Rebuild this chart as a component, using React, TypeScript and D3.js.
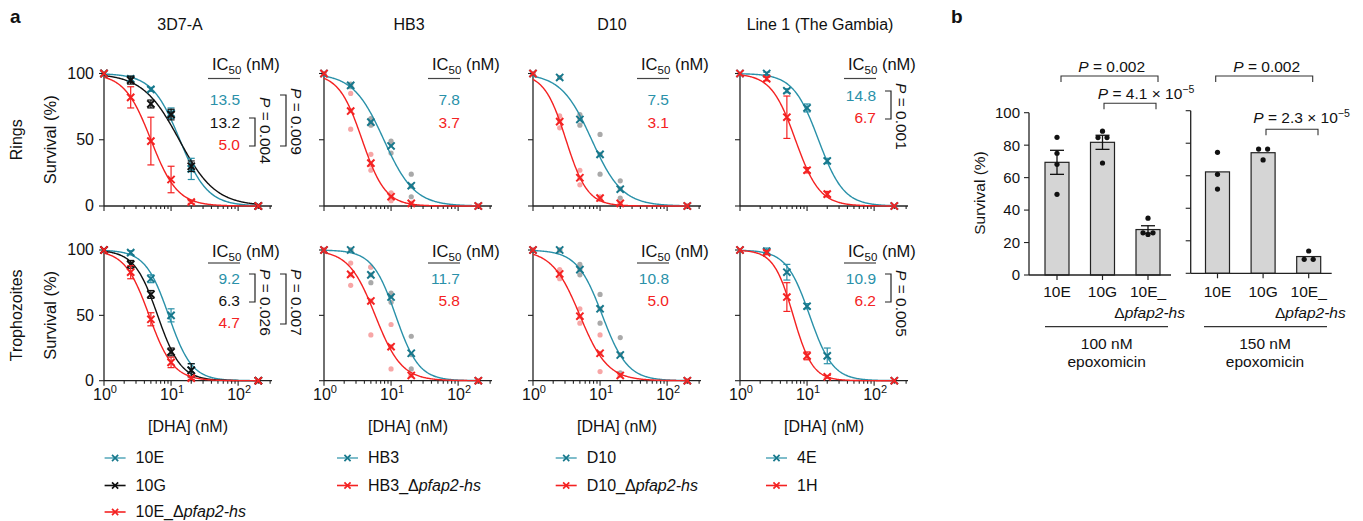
import React from "react";
import * as d3 from "d3";

// ---------------- DATA ----------------
const conc = [1, 2.5, 5, 10, 20, 200];
const strains = ["3D7-A", "HB3", "D10", "Line 1 (The Gambia)"];
const stages = ["Rings", "Trophozoites"];

// 3D7-A (mean, SEM)
const r3d7_10E = [100, 96, 88, 70, 28, 0];
const r3d7_10E_err = [0, 2, 1.5, 4, 8, 0];
const r3d7_10G = [100, 95, 77, 69, 30, 0];
const r3d7_10G_err = [0, 3, 3, 4, 4, 0];
const r3d7_KO = [100, 82, 49, 20, 3, 0];
const r3d7_KO_err = [0, 8, 18, 10, 1, 0];
const r3d7_ic50 = [13.5, 13.2, 5.0];
const r3d7_hill = [2.1, 1.6, 2.2];

const t3d7_10E = [100, 98, 78, 50, 8, 0];
const t3d7_10E_err = [0, 1.5, 3, 5, 5, 0];
const t3d7_10G = [100, 89, 66, 22, 8, 0];
const t3d7_10G_err = [0, 3, 3, 3, 5, 0];
const t3d7_KO = [100, 83, 47, 14, 2, 0];
const t3d7_KO_err = [0, 5, 5, 4, 1, 0];
const t3d7_ic50 = [9.2, 6.3, 4.7];
const t3d7_hill = [2.5, 2.5, 2.4];

// HB3 (replicates)
const rHB3_wt = [[100, 100, 100], [92, 90, 91], [66, 61, 63], [49, 47, 40], [24, 7, 15], [0, 0, 0]];
const rHB3_ko = [[100, 100, 100], [85, 58, 72], [39, 27, 31], [10, 4, 7], [2, 2, 2], [0, 0, 0]];
const rHB3_ic50 = [7.8, 3.7];
const rHB3_hill = [1.9, 2.5];
const tHB3_wt = [[100, 100, 100], [100, 100, 100], [87, 75, 81], [67, 65, 60], [34, 9, 20], [0, 0, 0]];
const tHB3_ko = [[100, 100, 100], [90, 73, 81], [87, 35, 61], [43, 9, 26], [4, 4, 4], [0, 0, 0]];
const tHB3_ic50 = [11.7, 5.8];
const tHB3_hill = [2.5, 2.2];

// D10 (replicates)
const rD10_wt = [[100, 100, 100], [97, 97, 97], [69, 61, 66], [54, 24, 39], [19, 6, 13], [0, 0, 0]];
const rD10_ko = [[100, 100, 100], [68, 59, 64], [27, 16, 21], [7, 5, 6], [2, 2, 2], [0, 0, 0]];
const rD10_ic50 = [7.5, 3.1];
const rD10_hill = [1.9, 2.7];
const tD10_wt = [[100, 100, 100], [100, 100, 100], [89, 81, 85], [66, 44, 55], [33, 6, 20], [0, 0, 0]];
const tD10_ko = [[100, 100, 100], [85, 78, 82], [55, 44, 49], [35, 7, 21], [4, 4, 4], [0, 0, 0]];
const tD10_ic50 = [10.8, 5.0];
const tD10_hill = [2.3, 2.1];

// Line 1 (mean, SEM)
const rL1_4E = [100, 100, 87, 74, 34, 0];
const rL1_4E_err = [0, 1, 1.5, 3, 2, 0];
const rL1_1H = [100, 96, 67, 27, 9, 0];
const rL1_1H_err = [0, 1.5, 16, 2, 2, 0];
const rL1_ic50 = [14.8, 6.7];
const rL1_hill = [2.3, 2.4];
const tL1_4E = [100, 99, 83, 57, 19, 0];
const tL1_4E_err = [0, 2.5, 6, 2, 6, 0];
const tL1_1H = [100, 98, 64, 19, 3, 0];
const tL1_1H_err = [0, 1.5, 11, 3, 1, 0];
const tL1_ic50 = [10.9, 6.2];
const tL1_hill = [2.5, 3.0];

// P-value brackets [seriesA, seriesB, P]
const r3d7_P: [number, number, string][] = [[1, 2, "0.004"], [0, 2, "0.009"]];
const t3d7_P: [number, number, string][] = [[0, 1, "0.026"], [0, 2, "0.007"]];
const rL1_P: [number, number, string][] = [[0, 1, "0.001"]];
const tL1_P: [number, number, string][] = [[0, 1, "0.005"]];

// legends
const legend3D7 = ["10E", "10G", "10E_Δpfap2-hs"];
const legendHB3 = ["HB3", "HB3_Δpfap2-hs"];
const legendD10 = ["D10", "D10_Δpfap2-hs"];
const legendL1 = ["4E", "1H"];

// panel b
const bCats = ["10E", "10G", "10E_Δpfap2-hs"];
const b100 = [[84.8, 75, 68.2, 49.7], [88.6, 84.7, 84.7, 69], [35, 26, 25, 26]];
const b150 = [[74.4, 60.9, 51.8], [76.4, 76.4, 69.7], [13.7, 8.6, 8.6]];
const b100_P = [["0.002", null], ["4.1", "−5"]];
const b150_P = [["0.002", null], ["2.3", "−5"]];
const bTicks = [0, 20, 40, 60, 80, 100];

// ---------------- STYLE / LAYOUT ----------------
const FONT = "'Liberation Sans', Arial, Helvetica, sans-serif";
const TEAL = "#2a91a9";
const TEAL_M = "#17788c";
const RED = "#f42222";
const BLACK = "#111";
const GRAY_DOT = "#a9a9a9";
const PINK_DOT = "#f7a6a6";
const AX = "#222";

const colX = [104, 324, 533, 740];
const titleX = [180, 409, 612, 820];
const rowY = [[73.5, 206], [250, 380.7]];
const icHeadY = [70, 257];
const icLineY = [78.5, 263];
const icValY = [[105, 128, 150], [284, 306, 328]];
const icValYL1 = [[101, 123], [284, 306]];
const pTextTop = [[97, 88], [269, 269]];
const pTextTopL1 = [83, 270];
const legendX = [104.6, 337, 555.7, 766];
const legendY = [458, 485.5, 512];

type Series = { color: string; mcolor: string; dot?: string; mean: number[]; err?: number[]; reps?: number[][] };

const meanOf = (reps: number[][]) => reps.map((r) => d3.mean(r) as number);

const panelSeries: Series[][][] = [
  [
    [
      { color: TEAL, mcolor: TEAL_M, mean: r3d7_10E, err: r3d7_10E_err },
      { color: BLACK, mcolor: BLACK, mean: r3d7_10G, err: r3d7_10G_err },
      { color: RED, mcolor: RED, mean: r3d7_KO, err: r3d7_KO_err },
    ],
    [
      { color: TEAL, mcolor: TEAL_M, mean: t3d7_10E, err: t3d7_10E_err },
      { color: BLACK, mcolor: BLACK, mean: t3d7_10G, err: t3d7_10G_err },
      { color: RED, mcolor: RED, mean: t3d7_KO, err: t3d7_KO_err },
    ],
  ],
  [
    [
      { color: TEAL, mcolor: TEAL_M, dot: GRAY_DOT, mean: meanOf(rHB3_wt), reps: rHB3_wt },
      { color: RED, mcolor: RED, dot: PINK_DOT, mean: meanOf(rHB3_ko), reps: rHB3_ko },
    ],
    [
      { color: TEAL, mcolor: TEAL_M, dot: GRAY_DOT, mean: meanOf(tHB3_wt), reps: tHB3_wt },
      { color: RED, mcolor: RED, dot: PINK_DOT, mean: meanOf(tHB3_ko), reps: tHB3_ko },
    ],
  ],
  [
    [
      { color: TEAL, mcolor: TEAL_M, dot: GRAY_DOT, mean: meanOf(rD10_wt), reps: rD10_wt },
      { color: RED, mcolor: RED, dot: PINK_DOT, mean: meanOf(rD10_ko), reps: rD10_ko },
    ],
    [
      { color: TEAL, mcolor: TEAL_M, dot: GRAY_DOT, mean: meanOf(tD10_wt), reps: tD10_wt },
      { color: RED, mcolor: RED, dot: PINK_DOT, mean: meanOf(tD10_ko), reps: tD10_ko },
    ],
  ],
  [
    [
      { color: TEAL, mcolor: TEAL_M, mean: rL1_4E, err: rL1_4E_err },
      { color: RED, mcolor: RED, mean: rL1_1H, err: rL1_1H_err },
    ],
    [
      { color: TEAL, mcolor: TEAL_M, mean: tL1_4E, err: tL1_4E_err },
      { color: RED, mcolor: RED, mean: tL1_1H, err: tL1_1H_err },
    ],
  ],
];
const panelIC = [[r3d7_ic50, t3d7_ic50], [rHB3_ic50, tHB3_ic50], [rD10_ic50, tD10_ic50], [rL1_ic50, tL1_ic50]];
const panelHill = [[r3d7_hill, t3d7_hill], [rHB3_hill, tHB3_hill], [rD10_hill, tD10_hill], [rL1_hill, tL1_hill]];
const panelP = [[r3d7_P, t3d7_P], [[], []], [[], []], [rL1_P, tL1_P]];
const legends = [legend3D7, legendHB3, legendD10, legendL1];
const legendColors = [
  [[TEAL, TEAL_M], [BLACK, BLACK], [RED, RED]],
  [[TEAL, TEAL_M], [RED, RED]],
  [[TEAL, TEAL_M], [RED, RED]],
  [[TEAL, TEAL_M], [RED, RED]],
];

const fmt1 = d3.format(".1f");
const X_MARK = "M-3.6,-3.6L3.6,3.6M-3.6,3.6L3.6,-3.6";

function LabelWithItalic({ text }: { text: string }) {
  const i = text.indexOf("Δ");
  if (i < 0) return <>{text}</>;
  return (
    <>
      {text.slice(0, i + 1)}
      <tspan fontStyle="italic">{text.slice(i + 1)}</tspan>
    </>
  );
}

function DosePanel({ ci, ri }: { ci: number; ri: number }) {
  const ax = colX[ci];
  const [yTop, yBot] = rowY[ri];
  const x = d3.scaleLog().domain([1, 320]).range([ax, ax + 168]);
  const y = d3.scaleLinear().domain([0, 100]).range([yBot, yTop]);
  const series = panelSeries[ci][ri];
  const ics = panelIC[ci][ri];
  const hills = panelHill[ci][ri];
  const ps = panelP[ci][ri];
  const curveX = d3.range(0, Math.log10(200) + 1e-9, 0.01).map((e) => Math.pow(10, e));
  const valY = ci === 3 ? icValYL1[ri] : icValY[ri];
  const xt = x.ticks();
  const isMajor = (t: number) => Math.abs(Math.log10(t) - Math.round(Math.log10(t))) < 1e-9;

  return (
    <g>
      {/* replicate dots */}
      {series.map((s, si) =>
        s.reps
          ? s.reps.map((r, k) =>
              r.map((v, j) => <circle key={`d${si}-${k}-${j}`} cx={x(conc[k])} cy={y(v)} r={2.6} fill={s.dot} />)
            )
          : null
      )}
      {/* axes */}
      <line x1={ax} x2={ax + 168} y1={yBot} y2={yBot} stroke={AX} strokeWidth={1.3} />
      <line x1={ax} x2={ax} y1={yTop} y2={yBot} stroke={AX} strokeWidth={1.3} />
      {xt.map((t, i) => (
        <line key={`xt${i}`} x1={x(t)} x2={x(t)} y1={yBot} y2={yBot + (isMajor(t) ? 5 : 3)} stroke={AX} strokeWidth={1.1} />
      ))}
      {[0, 50, 100].map((t) => (
        <line key={`yt${t}`} x1={ax - 5} x2={ax} y1={y(t)} y2={y(t)} stroke={AX} strokeWidth={1.1} />
      ))}
      {ci === 0 &&
        [0, 50, 100].map((t) => (
          <text key={`yl${t}`} x={ax - 10} y={y(t)} dy="0.34em" textAnchor="end" fontSize={16}>
            {t}
          </text>
        ))}
      {ri === 1 &&
        [1, 10, 100].map((t, i) => (
          <text key={`xl${t}`} x={x(t) + 1} y={400} textAnchor="middle" fontSize={16}>
            10<tspan fontSize={11} dy={-7.5}>{i}</tspan>
          </text>
        ))}
      {/* curves */}
      {series.map((s, si) => {
        const f = (c: number) => 100 / (1 + Math.pow(c / ics[si], hills[si]));
        const line = d3
          .line<number>()
          .x((c) => x(c))
          .y((c) => y(f(c)));
        return <path key={`c${si}`} d={line(curveX) || ""} fill="none" stroke={s.color} strokeWidth={1.4} />;
      })}
      {/* error bars + markers */}
      {series.map((s, si) =>
        s.mean.map((m, k) => {
          const cx = x(conc[k]);
          const cy = y(m);
          const e = s.err ? s.err[k] : 0;
          return (
            <g key={`m${si}-${k}`}>
              {e > 0.8 && (
                <g stroke={s.color} strokeWidth={1.2}>
                  <line x1={cx} x2={cx} y1={y(m + e)} y2={y(m - e)} />
                  <line x1={cx - 3.5} x2={cx + 3.5} y1={y(m + e)} y2={y(m + e)} />
                  <line x1={cx - 3.5} x2={cx + 3.5} y1={y(m - e)} y2={y(m - e)} />
                </g>
              )}
              <path d={X_MARK} transform={`translate(${cx},${cy})`} stroke={s.mcolor} strokeWidth={2} fill="none" />
            </g>
          );
        })
      )}
      {/* IC50 block */}
      <text x={ax + 108} y={icHeadY[ri]} fontSize={16.5}>
        IC<tspan fontSize={11.5} dy={4}>50</tspan>
        <tspan dy={-4}> (nM)</tspan>
      </text>
      <line x1={ax + 104} x2={ax + 136} y1={icLineY[ri]} y2={icLineY[ri]} stroke="#444" strokeWidth={1.2} />
      {ics.map((v, si) => (
        <text key={`ic${si}`} x={ax + 136} y={valY[si]} textAnchor="end" fontSize={15.5} fill={series[si].color}>
          {fmt1(v)}
        </text>
      ))}
      {/* P brackets */}
      {ps.map(([a, b, p], k) => {
        const vx = ax + (k === 0 ? 151 : 182);
        const y1 = valY[a] - 10;
        const y2 = valY[b] - 4;
        const top = ci === 3 ? pTextTopL1[ri] : pTextTop[ri][k];
        return (
          <g key={`p${k}`}>
            <path d={`M${vx - 6},${y1}H${vx}V${y2}H${vx - 6}`} fill="none" stroke={AX} strokeWidth={1.2} />
            <text transform={`translate(${vx + 11},${top}) rotate(90)`} dy="0.36em" fontSize={15.5}>
              <tspan fontStyle="italic">P</tspan> = {p}
            </text>
          </g>
        );
      })}
    </g>
  );
}

function jitter(vals: number[]) {
  const offs = vals.map(() => 0);
  const used = vals.map(() => false);
  vals.forEach((v, i) => {
    if (used[i]) return;
    const group: number[] = [];
    vals.forEach((w, j) => {
      if (!used[j] && Math.abs(w - v) < 3) {
        group.push(j);
        used[j] = true;
      }
    });
    const n = group.length;
    const sp = n === 2 ? 9 : 5;
    group.forEach((j, k) => (offs[j] = (k - (n - 1) / 2) * sp));
  });
  return offs;
}

function BarPanel({ data, x0, x1, yr, centers, labels, showErr, P, brk }: any) {
  const y = d3.scaleLinear().domain([0, 100]).range(yr);
  const x = d3.scalePoint<string>().domain(bCats).range(centers);
  const bw = 24;
  return (
    <g>
      {data.map((vals: number[], i: number) => {
        const m = d3.mean(vals) as number;
        const cx = x(bCats[i]) as number;
        const sem = (d3.deviation(vals) as number) / Math.sqrt(vals.length);
        const offs = jitter(vals);
        return (
          <g key={i}>
            <rect x={cx - bw / 2} y={y(m)} width={bw} height={y(0) - y(m)} fill="#d5d5d5" stroke={AX} strokeWidth={1.2} />
            {showErr && (
              <g stroke={BLACK} strokeWidth={1.3}>
                <line x1={cx} x2={cx} y1={y(m + sem)} y2={y(m - sem)} />
                <line x1={cx - 7} x2={cx + 7} y1={y(m + sem)} y2={y(m + sem)} />
                <line x1={cx - 7} x2={cx + 7} y1={y(m - sem)} y2={y(m - sem)} />
              </g>
            )}
            {vals.map((v, j) => (
              <circle key={j} cx={cx + offs[j]} cy={y(v)} r={2.6} fill={BLACK} />
            ))}
            <line x1={cx} x2={cx} y1={y(0)} y2={y(0) + 5} stroke={AX} strokeWidth={1.2} />
            <text x={cx} y={297} textAnchor="middle" fontSize={15.5}>
              {i === 2 ? "10E_" : bCats[i]}
            </text>
            {i === 2 && (
              <text x={cx + 37} y={318} textAnchor="end" fontSize={15.5}>
                Δ<tspan fontStyle="italic">pfap2-hs</tspan>
              </text>
            )}
          </g>
        );
      })}
      <line x1={x0} x2={x1} y1={y(0)} y2={y(0)} stroke={AX} strokeWidth={1.3} />
      <line x1={x0} x2={x0} y1={y(0)} y2={y(100)} stroke={AX} strokeWidth={1.3} />
      {bTicks.map((t) => (
        <line key={t} x1={x0 - 5} x2={x0} y1={y(t)} y2={y(t)} stroke={AX} strokeWidth={1.1} />
      ))}
      {labels &&
        bTicks.map((t) => (
          <text key={`l${t}`} x={x0 - 9} y={y(t)} dy="0.36em" textAnchor="end" fontSize={15}>
            {t}
          </text>
        ))}
      {brk.map((b: any, k: number) => (
        <g key={`b${k}`}>
          <path d={`M${b.xa},${b.y + 6}V${b.y}H${b.xb}V${b.y + 6}`} fill="none" stroke="#333" strokeWidth={1.1} />
          <text x={b.tx} y={b.ty} textAnchor="middle" fontSize={15.5}>
            <tspan fontStyle="italic">P</tspan> = {P[k][0]}
            {P[k][1] && (
              <>
                {" × 10"}
                <tspan fontSize={10.5} dy={-6}>
                  {P[k][1]}
                </tspan>
              </>
            )}
          </text>
        </g>
      ))}
    </g>
  );
}

export default function App() {
  return (
    <svg
      width={1363}
      height={521}
      viewBox="0 0 1363 521"
      style={{ position: "absolute", left: 0, top: 0, background: "#fff" }}
      fontFamily={FONT}
      fill="#111"
    >
      <rect width={1363} height={521} fill="#fff" />
      <text x={10} y={23} fontSize={19} fontWeight="bold">a</text>
      <text x={951} y={23} fontSize={19} fontWeight="bold">b</text>

      {strains.map((s, ci) => (
        <text key={s} x={titleX[ci]} y={30} textAnchor="middle" fontSize={16}>
          {s}
        </text>
      ))}
      {stages.map((s, ri) => {
        const cy = (rowY[ri][0] + rowY[ri][1]) / 2;
        return (
          <g key={s}>
            <text transform={`translate(16.5,${cy}) rotate(-90)`} dy="0.36em" textAnchor="middle" fontSize={16}>
              {s}
            </text>
            <text transform={`translate(50,${cy}) rotate(-90)`} dy="0.36em" textAnchor="middle" fontSize={16.5}>
              Survival (%)
            </text>
          </g>
        );
      })}

      {[0, 1, 2, 3].map((ci) => (
        <g key={ci}>
          <DosePanel ci={ci} ri={0} />
          <DosePanel ci={ci} ri={1} />
          <text x={colX[ci] + 84} y={432} textAnchor="middle" fontSize={16}>
            [DHA] (nM)
          </text>
          {legends[ci].map((l, k) => {
            const lx = legendX[ci];
            const ly = legendY[k];
            const [lc, mc] = legendColors[ci][k];
            return (
              <g key={l}>
                <line x1={lx} x2={lx + 21} y1={ly} y2={ly} stroke={lc} strokeWidth={1.6} opacity={lc === TEAL ? 0.75 : 1} />
                <path d={X_MARK} transform={`translate(${lx + 10.5},${ly}) scale(0.85)`} stroke={mc} strokeWidth={2} fill="none" />
                <text x={lx + 31} y={ly} dy="0.34em" fontSize={16}>
                  <LabelWithItalic text={l} />
                </text>
              </g>
            );
          })}
        </g>
      ))}

      {/* panel b */}
      <text transform="translate(979,193) rotate(-90)" dy="0.36em" textAnchor="middle" fontSize={15.5}>
        Survival (%)
      </text>
      <BarPanel
        data={b100}
        x0={1029}
        x1={1171}
        yr={[275, 112.7]}
        centers={[1057, 1148]}
        labels
        showErr
        P={b100_P}
        brk={[
          { xa: 1061, xb: 1158, y: 76, tx: 1111.7, ty: 71.5 },
          { xa: 1104, xb: 1156, y: 103.3, tx: 1146, ty: 98.5 },
        ]}
      />
      <BarPanel
        data={b150}
        x0={1190.7}
        x1={1331.7}
        yr={[273.3, 110.7]}
        centers={[1217.5, 1308.7]}
        labels={false}
        showErr={false}
        P={b150_P}
        brk={[
          { xa: 1215.7, xb: 1312.7, y: 76, tx: 1266.7, ty: 71.5 },
          { xa: 1266, xb: 1318, y: 129.3, tx: 1301.5, ty: 123 },
        ]}
      />
      <line x1={1045} x2={1168} y1={326.7} y2={326.7} stroke="#333" strokeWidth={1.3} />
      <line x1={1204} x2={1327} y1={326.7} y2={326.7} stroke="#333" strokeWidth={1.3} />
      <text x={1106.7} y={349} textAnchor="middle" fontSize={15.5}>100 nM</text>
      <text x={1106.7} y={367} textAnchor="middle" fontSize={15.5}>epoxomicin</text>
      <text x={1265} y={349} textAnchor="middle" fontSize={15.5}>150 nM</text>
      <text x={1265} y={367} textAnchor="middle" fontSize={15.5}>epoxomicin</text>
    </svg>
  );
}
